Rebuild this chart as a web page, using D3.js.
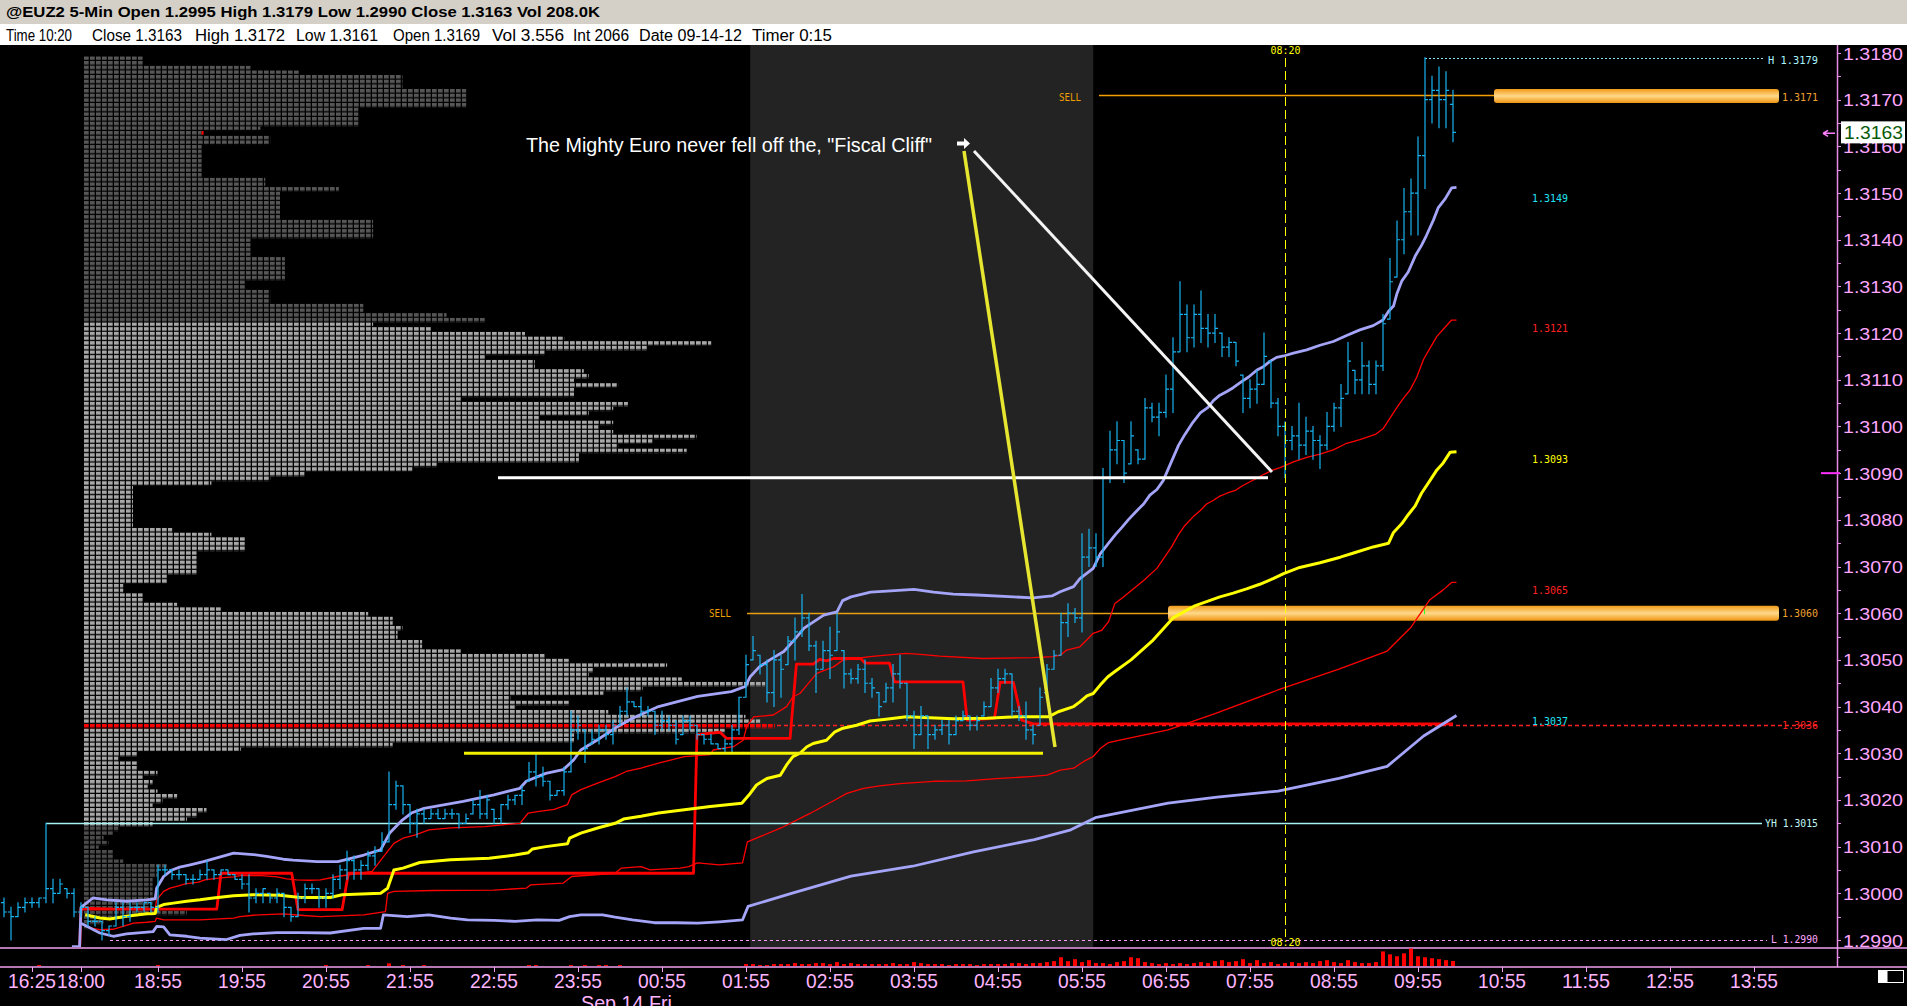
<!DOCTYPE html>
<html>
<head>
<meta charset="utf-8">
<script src="https://cdn.jsdelivr.net/npm/d3@7"></script>
<style>
  body { margin: 0; background: #000; overflow: hidden; }
  svg { display: block; }
</style>
</head>
<body>
<div id="vis"></div>
<script>
// ---- data (prices in pips above 1.3000) ----
const symbolTitle = "@EUZ2 5-Min Open 1.2995 High 1.3179 Low 1.2990 Close 1.3163 Vol 208.0K";
const infoFields = ["Time 10:20", "Close 1.3163", "High 1.3172", "Low 1.3161", "Open 1.3169",
  "Vol 3.556", "Int 2066", "Date 09-14-12", "Timer 0:15"];

const timeLabels = ["16:25","18:00","18:55","19:55","20:55","21:55","22:55","23:55","00:55","01:55","02:55",
  "03:55","04:55","05:55","06:55","07:55","08:55","09:55","10:55","11:55","12:55","13:55"];
const timeLabelBars = [-7,0,11,23,35,47,59,71,83,95,107,119,131,143,155,167,179,191,203,215,227,239];
const dateLabel = "Sep 14 Fri";
const priceTicks = d3.range(0, 20).map(i => +(1.2990 + i * 0.001).toFixed(4));

const firstBar = -11;   // bars before 18:00 belong to the previous session
const barHigh = [-1,-3,-2,-1,-1,-1,15,3,3,1,1,
  -2,-3,-5,-6,-7,-2,-2,-2,-2,-2, -2,6,6,5,5,4,4,5,7,5, 5,5,4,4,4,1,1,0,1,0, -3,0,2,2,1,1,4,6,9,8,
  7,9,10,13,26,24,23,19,18,18, 18,18,18,18,17,17,20,22,21,18, 19,21,21,23,28,30,27,24,22,27,
  39,38,35,35,36,36,37,40,44,41, 42,40,39,39,38,37,38,38,36,34, 34,32,33,36,42,51,55,51,50,52,
  51,55,59,64,60,54,54,57,60,52, 48,49,50,46,43,45,49,51,45,39, 40,38,36,37,37,38,39,38,38,41,
  46,48,48,47,40,41,36,44,49,52, 60,62,61,77,78,77,91,99,101,97, 101,95,106,105,105,111,119,131,126,126,
  129,124,124,120,119,118,111,110,112,120, 114,106,101,100,105,102,100,98,103,105,
  109,118,112,118,114,114,124,136,144,151, 153,162,179,175,177,176,172];
const barLow = [-5,-10,-5,-4,-3,-3,-2,-2,0,-1,-5,
  -5,-7,-7,-10,-9,-7,-7,-6,-4,-4, -4,-4,4,3,3,2,2,3,3,3, 4,4,3,1,-4,-2,-2,-2,-2,-5, -6,-5,-2,0,-3,-3,-1,1,3,3,
  3,5,6,9,11,18,17,13,12,15, 16,16,16,16,14,15,17,16,16,15, 15,18,19,19,24,23,23,20,21,21,
  26,33,28,32,32,33,32,36,38,40, 38,38,34,35,35,32,34,35,33,32, 32,31,30,30,34,42,50,47,41,40,
  42,49,50,55,52,43,48,46,52,44, 45,45,43,42,38,41,41,44,37,31, 34,31,33,34,32,34,37,35,35,38,
  40,43,45,38,37,33,32,36,43,48, 51,55,58,56,70,70,70,88,92,88, 92,92,93,101,98,102,103,116,116,117,
  118,117,118,115,115,113,103,104,105,109, 104,98,89,95,93,94,93,91,95,99,
  100,107,107,107,107,107,112,123,132,137, 141,141,151,165,164,164,161];
const barOpen = [-2,-4,-5,-3,-2,-2,-1,1,0,1,0,
  -4,-3,-6,-6,-8,-7,-3,-5,-3,-3, -2,-3,5,5,4,4,3,3,4,5, 4,5,4,3,2,-1,0,0,-1,0, -3,-5,-1,1,1,-1,0,3,5,7,
  5,6,8,9,11,19,23,19,15,17, 16,17,16,17,17,15,17,19,17,18, 16,19,20,21,24,26,25,24,21,22,
  26,35,35,32,33,35,34,36,39,41, 40,39,39,36,37,36,34,37,36,34, 33,32,31,32,35,42,50,51,49,43,
  50,49,54,56,59,53,48,52,52,52, 47,46,48,45,43,41,44,47,45,38, 34,38,34,35,36,34,37,38,36,38,
  40,44,46,47,39,38,35,36,43,48, 51,58,60,59,72,74,72,89,95,97, 92,95,93,104,102,103,108,116,124,119,
  124,121,120,120,117,118,111,106,108,109, 114,105,100,97,98,96,99,97,96,100,
  104,107,112,110,113,109,113,123,132,140, 146,150,158,170,172,170,169];
const barClose = [-4,-5,-3,-2,-2,-1,1,0,2,0,-4,
  -3,-6,-6,-8,-7,-3,-5,-3,-3,-2, -3,5,5,4,4,3,3,4,5,4, 5,4,3,2,-1,0,1,-1,0,-3, -5,-1,1,1,-1,0,3,5,7,5,
  6,8,9,11,19,23,19,15,17,16, 17,16,17,17,15,16,19,17,20,16, 19,20,21,22,26,25,24,21,22,26,
  35,36,31,33,35,34,36,39,41,40, 39,39,36,37,36,33,37,36,34,33, 32,31,32,35,42,49,52,49,43,50,
  48,54,56,59,53,48,52,51,56,47, 46,48,45,44,40,44,47,45,38,34, 38,34,35,36,34,37,38,36,37,40,
  44,46,47,39,38,35,34,42,48,51, 58,60,59,72,74,72,89,95,97,90, 98,93,104,102,103,108,116,124,119,124,
  121,120,121,117,118,114,106,108,109,115, 105,100,97,98,96,99,97,96,100,104,
  106,114,110,113,109,113,122,131,140,146, 150,158,170,172,170,172,163];
// volume per bar, thousands of contracts
const barVolume = [0,0,0,0,0,0.7,0,0,0,0,0,
  0,0,0,0,0,0,0,0,0,0, 0,0.7,0,0,0,0,0,0,0,0, 0,0,0,0,0,0,0,0,0,0, 0,0,0,0,0,0.7,0,0,0,0,
  0,0.7,0,0,1.9,0,0.7,0,0,0.7, 0,0,0,0,0,0,0,0,0,0, 0,0,0,0,0.7,0.7,0,0,0,0,
  0.7,0,0.7,0,0.7,0.7,0,0.7,0,0, 0,0,0,0,0,0,0,0,0,0, 0,0,0,0,0,
  1.4,1.4,0.7,0.7,1.4,1.4,1.4,2.1,1.4,1.4,2.1,2.1,1.4,2.8,1.4,2.1,1.4,1.4,1.4,1.4,1.4,2.1,1.4,
  1.4,2.8,2.1,1.4,1.4,1.4,0.7,1.4,1.4,1.4,0.7,1.4,1.4,1.4,1.4,2.1,2.1,1.4,2.1,2.1,2.8,3.5,
  6.3,3.5,4.9,2.8,4.2,2.1,2.1,1.4,2.8,3.5,6.3,5.6,2.8,2.1,1.4,2.1,1.4,2.1,1.4,2.1,2.8,2.1,3.5,4.2,
  2.8,3.5,4.9,2.1,4.2,2.1,2.8,1.4,2.1,2.8,2.1,2.8,2.1,3.5,4.2,2.8,2.1,4.2,2.8,2.1,2.1,2.8,
  10.5,8.4,7,9.1,12.6,7,6.3,5.6,4.9,4.2,3.6];

// volume profile: volume units per 1-pip row, from 1.3179 down to 1.2990
const profileTop = 1.3179;
const profileRows = [12,12,34,44,65,65,65,78,78,78, 78,56,56,56,56,36,24,38,38,24,
  24,24,24,24,24,24,37,37,52,40, 40,40,40,40,40,59,59,59,59,34, 34,34,34,41,41,41,41,41,33,33,
  38,38,38,57,57,74,82,59,71,90, 98,128,115,94,82,92,92,102,103,100, 109,100,100,77,111,108,103,93,108,105,
  108,125,116,109,123,101,101,72,67,45, 38,26,10,10,10,10,10,10,10,10, 10,18,26,33,33,33,23,23,23,23,
  23,17,17,8,8,12,12,19,28,58, 63,63,65,64,64,69,69,77,94,99, 119,104,103,122,139,114,106,87,99,88,
  107,135,138,141,131,100,100,63,32,11, 7,11,11,15,12,14,13,15,19,16, 14,25,23,21,14,7,6,4,5,3,
  6,6,8,17,15,15,14,14,14,14, 15,14,14,21,8,4,1,0,0,0];
const valueAreaHigh = 1.3122, valueAreaLow = 1.3015, profilePoc = 1.3036;

// session VWAP and bands: [bar, pips]
const vwapLine = [[0.6,-4.6],[2.7,-5.3],[4.1,-5.5],[6.5,-4.9],[9.4,-4.4],[10.6,-4.3],[10.8,-3],[11.8,-2.4],[13.2,-2.1],
  [15.1,-1.7],[17,-1.4],[18.9,-1],[21.8,-0.5],[24.6,-0.3],[28.4,-0.4],[31.3,-0.9],[35.6,-0.9],[37.3,-0.3],[42.8,0],
  [43.8,1.1],[44.7,5],[46,5.4],[48.4,6.6],[52.8,7.2],[58.3,7.5],[62,8.2],[63.9,8.7],[64.5,9.5],[66.4,10],[69.5,10.6],
  [69.8,11.8],[71.4,12.9],[73.8,14],[76.3,15],[77.5,15.9],[80,16.5],[82.5,17.2],[86.2,17.9],[89.9,18.6],[94.4,19.3],
  [95.6,21.4],[96.5,23.2],[98,24.6],[99.9,25.3],[100.8,27.5],[101.7,29.3],[102.7,30],[103.7,31.4],[104.6,32.1],
  [106.5,32.8],[107.7,34.6],[108.7,35.3],[110.8,36],[112.7,36.9],[115,37.3],[117.9,37.8],[124.6,37.4],[129.4,37.5],
  [133.6,37.8],[138.2,37.8],[139.6,38.9],[141.8,40],[142.7,41],[143.7,42.3],[144.6,42.8],[145.6,44.6],[146.7,46.4],
  [147.7,47.5],[150,50],[153,54],[156,59],[159,61.5],[162.7,63.5],[164.6,64.3],[166.5,65.2],[168.4,66.2],[170.3,67.4],
  [171.8,68.5],[174.1,69.8],[177,70.8],[179.9,72],[181.8,72.9],[184.6,74.2],[186.8,75],[187.5,77.3],[188.7,79.2],
  [189.6,81.1],[190.6,83],[191.5,85.7],[192.7,88.4],[193.7,90.7],[194.6,92.2],[195.6,94.5],[196.5,94.6]];
const upperBand2 = [[-1.3,-11.4],[-0.2,-11.4],[0,-3],[1.7,-1],[3.7,-1.4],[6.5,-1.7],[9.4,-1.4],[10.6,-1.2],[10.8,1.1],
  [11.8,3.6],[13,5],[14.1,5.6],[15.6,6.1],[17.5,6.8],[19.4,7.6],[20.8,8.2],[21.8,8.6],[24.6,8.3],[26.5,7.9],[28.9,7.3],
  [30.3,7.1],[33.7,6.8],[36.7,6.8],[40.4,8.2],[42.8,9.3],[44.1,12.9],[45.9,15.7],[47.2,17.2],[49,18.2],[54.6,19.7],
  [59,21.1],[62.7,22.5],[63.6,24],[66.4,25.7],[68.9,26.5],[70.4,28.6],[71.4,30.7],[73.8,32.9],[76.3,35.4],[78.8,37.5],
  [82.5,40],[88.1,42.2],[92.9,43.2],[94.9,44.3],[95.6,46.4],[96.9,48.5],[98.4,50],[100.4,51.8],[101.9,54.3],
  [103.3,56.8],[104.7,58.2],[106.1,59.6],[108,60.3],[108.8,62.7],[110,63.5],[112.8,64.5],[115.7,64.8],[119,65.1],
  [121.8,64.5],[124.6,64.1],[128,63.9],[133.2,63.5],[136,63.3],[138.7,63.7],[139.9,64.6],[141.8,65.7],[142.7,67.4],
  [144.6,69.6],[145.6,72.7],[146.8,75],[147.8,76.9],[148.7,78.4],[149.6,80],[150.8,81.9],[151.8,83.4],[152.7,85.3],
  [153.7,86.5],[154.6,88.4],[155.7,92.2],[156.8,96],[157.7,98.3],[158.7,100.6],[159.9,102.9],[161,104.1],
  [161.8,105.6],[162.7,106.7],[163.7,107.5],[164.6,108.3],[165.8,109.6],[166.8,110.6],[168,112.1],[168.9,112.8],
  [169.9,114],[170.8,114.8],[171.8,115.1],[173.2,115.7],[175.1,116.4],[177,117.4],[178.9,118.2],[180.8,119.5],
  [182.7,120.7],[184.6,121.6],[186,122.8],[186.8,124.7],[187.5,125.8],[188,128.5],[188.7,131.2],[189.6,133.1],
  [190.6,136.5],[191.5,138.8],[192.2,140.9],[193.2,144.2],[193.9,146.9],[194.9,148.8],[195.8,151.1],[196.5,151.2]];
const lowerBand2 = [[0,-6.4],[2.7,-8.5],[4.6,-9.2],[6.5,-8.7],[10.3,-8.2],[10.8,-7.1],[11.8,-7.2],[12.7,-8.9],[15.1,-9.2],
  [17,-9.6],[20.8,-9.9],[22.7,-9],[24.6,-8.7],[28,-8.4],[31.3,-8.4],[35.6,-8.5],[40.4,-7.5],[42.8,-7.5],[43.2,-4.6],
  [46.6,-5],[49.7,-4.6],[52.8,-5.3],[55.2,-5.7],[59,-5.8],[62,-6],[65.2,-5.7],[68.3,-5.8],[69.8,-5],[71.4,-4.6],
  [74.5,-4.6],[76.3,-5.1],[78.8,-5.7],[81.9,-6.3],[85,-6.3],[88.1,-6.4],[91.2,-6.1],[94.5,-5.7],[95.3,-2.8],[101.5,0],
  [110,3.7],[118.8,5.8],[127.5,8.9],[136.2,11.5],[141.4,13.6],[144.9,16.2],[155.3,19.3],[162.3,20.6],[171,21.9],
  [179.7,24.6],[186.6,27.2],[191.8,33.7],[196.5,38.1]];
const upperBand1 = [[0.6,-3],[4.6,-3.3],[9.4,-3.5],[10.6,-3.3],[10.8,-1.4],[11.8,0.4],[12.7,1.1],[13.7,1.5],[14.9,2],
  [16.8,2.4],[17.7,2.9],[19.9,3.3],[21.8,3.5],[22.7,3.8],[25.8,3.8],[28,3.5],[29.4,3.1],[30.8,2.9],[32.7,2.8],[34.2,2.9],
  [36.6,3.6],[41.6,4.7],[43.8,9],[44.7,10.7],[46,11.8],[47.8,12.5],[49.7,13.6],[52.8,14],[57.7,14.3],[62.7,15],
  [63.9,17.2],[65.2,17.5],[67.6,18],[69.5,19],[70.1,21.1],[71.4,22.2],[73.8,23.6],[76.3,25],[77.9,26.1],[80,26.8],
  [82.5,27.9],[86.2,29.3],[89.9,29.7],[90.3,30.7],[93.2,31.4],[94.6,32.8],[95.1,35.7],[96.1,37.8],[98.9,38.2],
  [100.8,40],[101.7,42.1],[102.7,42.8],[103.7,44.6],[105.1,47.1],[107.5,48.5],[108.9,50],[110.8,50.3],[112.7,50.7],
  [115,51],[117.9,51.4],[119.9,51.2],[122.7,50.8],[128.9,50.3],[136,50.5],[138.9,50.7],[139.9,51],[140.8,52.1],
  [142.7,52.8],[143.7,54.3],[144.6,55.7],[145.8,56.3],[146.8,58.2],[147.7,62.1],[148.7,63.2],[151.8,67],[153.7,69.6],
  [155.8,74.2],[156.8,76.9],[157.7,78.8],[158.9,80.7],[159.9,82],[160.8,83.4],[161.8,84.2],[162.7,85.1],[163.7,85.7],
  [164.9,86.3],[165.8,87.2],[166.8,88],[168,88.9],[168.9,89.7],[170.3,90.7],[171.3,91.2],[173.2,92.4],[175.1,93.4],
  [177,94.1],[178.9,95],[180.8,96.4],[182.7,97.2],[184.9,98.3],[186,99.5],[187,101.8],[188,104.1],[188.9,106],
  [189.9,107.9],[190.8,110.5],[191.8,114.4],[192.8,117],[193.7,119.3],[194.9,121.3],[195.8,122.8],[196.5,122.8]];
const lowerBand1 = [[1.3,-7.4],[2.7,-7.8],[4.6,-7.7],[6,-7.1],[7.5,-6.4],[9.4,-6.2],[10.6,-6],[10.8,-5.3],[11.8,-5.7],
  [17,-5.7],[21.8,-5.3],[22.7,-5],[24.6,-4.7],[28.9,-4.4],[31.3,-4.7],[34.2,-5],[40.4,-4.6],[43.5,-3.9],[43.8,0],
  [44.7,0.4],[50.3,0.6],[59,0.7],[63.6,1.1],[64.2,1.8],[68.9,2.2],[70.1,3.6],[76.3,4.3],[77.2,5.4],[80,5.7],[81.3,5],
  [85.6,5.4],[86.8,5.7],[88.1,6.5],[91.2,6.1],[94.5,6.5],[95.2,11],[100,14],[104,17],[107.7,20],[109.4,21.4],
  [111.8,22.5],[114.1,23],[117,23.5],[121.8,24],[126.5,24.1],[131.3,24.6],[135.6,25],[138,25.3],[139.9,26.4],
  [141.8,26.8],[143.2,28.2],[144.6,29.3],[145.6,31],[146.8,32.3],[148.4,32.8],[155.3,35],[162,38.5],[170.9,43.5],
  [179.7,48],[186.6,51.9],[190,57],[192.7,62.9],[194.6,65],[195.8,66.6],[196.5,66.6]];
// stepped range pivot line
const pivotLine = [[-0.2,-12.5],[0,-3.4],[19.4,-3.4],[20,4.3],[30.1,4.3],[31,-3.5],[37.3,-3.5],[38.2,4.3],[87.5,4.3],
  [88,34],[91.3,34.5],[92.2,33.2],[101.3,33.2],[102.2,49.1],[104.6,49.1],[105.5,50.1],[106.5,49.8],[107.5,50.3],
  [111.4,50.3],[112,49.3],[115.5,49.3],[116.2,45.3],[126,45.3],[126.6,37.1],[130.5,37.5],[131.3,45.2],[133.2,45.2],
  [134.4,37.1],[136,36.3],[196,36.3]];
const bandLabels = ["1.3149","1.3121","1.3093","1.3065","1.3037"];

const dayHigh = 1.3179, dayLow = 1.2990, yesterdayHigh = 1.3015;
const sellLevels = [1.3171, 1.3060];
const pocLevel = 1.3036;
const lastPrice = 1.3163;
const markLevel = 1.3090;
const euroNote = "The Mighty Euro never fell off the, \"Fiscal Cliff\"";
const whiteLineLevel = 1.3089, yellowLineLevel = 1.3030;
const timeMarkerBar = 172, timeMarkerLabel = "08:20";
const shadedBars = [95.6, 144.6];

// ---- layout ----
const W = 1907, H = 1006;
const plotTop = 45, plotBottom = 947, axisX = 1837;
const narrow = "'Liberation Sans Narrow','Arial Narrow','Liberation Sans',Arial,sans-serif";
const mono = "'DejaVu Sans Mono','Liberation Mono',monospace";
const pip = 0.0001;

const svg = d3.select("#vis").append("svg").attr("width", W).attr("height", H);
const x = d3.scaleLinear().domain([0, 196]).range([81, 1453]);
const y = d3.scaleLinear().domain([1.2990, 1.3180]).range([940, 53]);
const py = v => y(1.3 + v * pip);
const rowH = y(1.3) - y(1.3 + pip);
const profW = d3.scaleLinear().domain([0, 1]).range([84, 88.9]);
const cellPitch = 6;
const volY = d3.scaleLinear().domain([0, 12.6]).range([966, 948.5]);

const defs = svg.append("defs");
defs.append("clipPath").attr("id", "plotClip").append("rect")
  .attr("x", 0).attr("y", plotTop).attr("width", axisX).attr("height", plotBottom - plotTop);

const cellPattern = (id, color) => {
  const p = defs.append("pattern").attr("id", id).attr("patternUnits", "userSpaceOnUse")
    .attr("x", profW(0)).attr("y", y(profileTop) - rowH / 2 + 1)
    .attr("width", cellPitch).attr("height", rowH);
  p.append("rect").attr("width", cellPitch - 1.3).attr("height", rowH - 1.2).attr("fill", color);
};
cellPattern("cellDark", "#575757");
cellPattern("cellLight", "#a8a8a8");
cellPattern("cellLow", "#4c4c4c");
cellPattern("cellPoc", "#ff0000");

const grad = defs.append("linearGradient").attr("id", "sellGrad").attr("x1", 0).attr("y1", 0).attr("x2", 0).attr("y2", 1);
grad.append("stop").attr("offset", "0%").attr("stop-color", "#f09a18");
grad.append("stop").attr("offset", "50%").attr("stop-color", "#ffd98a");
grad.append("stop").attr("offset", "100%").attr("stop-color", "#ee9410");

// backgrounds
svg.append("rect").attr("width", W).attr("height", H).attr("fill", "#000");
svg.append("rect").attr("width", W).attr("height", 24).attr("fill", "#d4d0c8");
svg.append("rect").attr("y", 24).attr("width", W).attr("height", 21).attr("fill", "#fff");

svg.append("text").attr("x", 6).attr("y", 17).text(symbolTitle)
  .attr("font-family", "'Liberation Sans',Arial,sans-serif").attr("font-weight", "bold").attr("font-size", 15)
  .attr("textLength", 594).attr("lengthAdjust", "spacingAndGlyphs").attr("fill", "#000");

const infoX = [[6, 66], [92, 90], [195, 90], [296, 82], [393, 87], [492, 72], [573, 56], [639, 103], [752, 80]];
svg.selectAll("text.info").data(infoFields).join("text").attr("class", "info")
  .attr("x", (d, i) => infoX[i][0]).attr("y", 41).text(d => d)
  .attr("textLength", (d, i) => infoX[i][1]).attr("lengthAdjust", "spacingAndGlyphs")
  .attr("font-family", narrow).attr("font-size", 16).attr("fill", "#000");

const plot = svg.append("g").attr("clip-path", "url(#plotClip)");

// shaded session block
plot.append("rect").attr("x", x(shadedBars[0])).attr("y", plotTop)
  .attr("width", x(shadedBars[1]) - x(shadedBars[0])).attr("height", plotBottom - plotTop).attr("fill", "#232323");

// volume profile
const profData = profileRows.map((n, i) => ({ n, price: +(profileTop - i * pip).toFixed(4) }));
plot.selectAll("rect.prof").data(profData.filter(d => d.n > 0)).join("rect").attr("class", "prof")
  .attr("x", profW(0)).attr("y", d => y(d.price) - rowH / 2 + 1)
  .attr("width", d => profW(d.n) - profW(0)).attr("height", rowH)
  .attr("fill", d => {
    if (Math.abs(d.price - profilePoc) < pip / 2) return "url(#cellPoc)";
    if (d.price > valueAreaHigh) return "url(#cellDark)";
    if (d.price < valueAreaLow) return "url(#cellLow)";
    return "url(#cellLight)";
  });
plot.append("rect").attr("x", profW(24)).attr("y", y(1.3163) - rowH / 2 + 1).attr("width", 2).attr("height", rowH - 1).attr("fill", "#f00");

// horizontal levels
const hline = (price, x1, x2, color, width, dash) => plot.append("line")
  .attr("x1", x1).attr("x2", x2).attr("y1", Math.round(y(price)) + 0.5).attr("y2", Math.round(y(price)) + 0.5)
  .attr("stroke", color).attr("stroke-width", width).attr("stroke-dasharray", dash || null);

hline(dayHigh, x(192), 1765, "#8fe3f5", 1, "2,2");
hline(yesterdayHigh, x(-5), 1762, "#a6f2f2", 1.3);
hline(dayLow, 110, 1767, "#ff9cff", 1, "3,3");
hline(pocLevel, 777, 1818, "#ff2020", 1.3, "4,3");
hline(sellLevels[0], 1099, 1779, "#f5a000", 1.6);
hline(sellLevels[1], 747, 1779, "#e8a010", 1.4);
plot.append("rect").attr("x", 1494).attr("y", y(sellLevels[0]) - 6).attr("width", 285).attr("height", 14)
  .attr("rx", 3).attr("fill", "url(#sellGrad)");
plot.append("rect").attr("x", 1168).attr("y", y(sellLevels[1]) - 7.5).attr("width", 611).attr("height", 15)
  .attr("rx", 3).attr("fill", "url(#sellGrad)");
plot.append("line").attr("x1", 1424.5).attr("x2", 1424.5).attr("y1", y(sellLevels[1]) - 7).attr("y2", y(sellLevels[1]) + 1)
  .attr("stroke", "#30ff30").attr("stroke-width", 1);

// indicator lines
const line = d3.line().x(d => x(d[0])).y(d => py(d[1]));
const drawLine = (data, color, width) => plot.append("path").datum(data).attr("d", line)
  .attr("fill", "none").attr("stroke", color).attr("stroke-width", width).attr("stroke-linejoin", "round");
drawLine(lowerBand1, "#ff0000", 1.3);
drawLine(upperBand1, "#ff0000", 1.3);
drawLine(pivotLine, "#ff0000", 2.8);
drawLine(lowerBand2, "#a4a4f8", 2.8);
drawLine(upperBand2, "#a4a4f8", 2.8);
drawLine(vwapLine, "#ffff00", 3);

// OHLC bars
const bars = barHigh.map((h, i) => ({ k: firstBar + i, h, l: barLow[i], o: barOpen[i], c: barClose[i], v: barVolume[i] }));
plot.selectAll("path.bar").data(bars).join("path").attr("class", "bar")
  .attr("d", d => `M${x(d.k)},${py(d.h) - 0.5}V${py(d.l) + 0.5}M${x(d.k) - 3},${py(d.o)}H${x(d.k)}M${x(d.k)},${py(d.c)}H${x(d.k) + 3}`)
  .attr("fill", "none").attr("stroke", "#18b2f0").attr("stroke-width", 1.2);

// 08:20 marker
const tx = Math.round(x(timeMarkerBar)) + 0.5;
plot.append("line").attr("x1", tx).attr("x2", tx).attr("y1", 58).attr("y2", 937)
  .attr("stroke", "#ffff00").attr("stroke-width", 1).attr("stroke-dasharray", "9,4");
[54, 946].forEach(by => {
  svg.append("text").attr("x", tx).attr("y", by).attr("text-anchor", "middle").text(timeMarkerLabel)
    .attr("font-family", mono).attr("font-size", 11).attr("textLength", 30).attr("lengthAdjust", "spacingAndGlyphs")
    .attr("fill", "#ffff00");
});

// hand drawn annotation
plot.append("line").attr("x1", 498).attr("x2", 1268).attr("y1", y(whiteLineLevel)).attr("y2", y(whiteLineLevel))
  .attr("stroke", "#fff").attr("stroke-width", 3);
plot.append("line").attr("x1", 974).attr("y1", 151).attr("x2", 1272).attr("y2", 472)
  .attr("stroke", "#f4f4f4").attr("stroke-width", 3);
plot.append("line").attr("x1", 464).attr("x2", 1043).attr("y1", y(yellowLineLevel)).attr("y2", y(yellowLineLevel))
  .attr("stroke", "#f2f200").attr("stroke-width", 3);
plot.append("line").attr("x1", 964).attr("y1", 151).attr("x2", 1055).attr("y2", 747)
  .attr("stroke", "#e6e630").attr("stroke-width", 3.5);
svg.append("text").attr("x", 526).attr("y", 152).text(euroNote)
  .attr("font-family", narrow).attr("font-size", 21).attr("textLength", 406).attr("lengthAdjust", "spacingAndGlyphs")
  .attr("fill", "#fff");
svg.append("path").attr("d", "M957,141.5h7v-3.5l6,5.5l-6,5.5v-3.5h-7z").attr("fill", "#fff");

// level labels
const label = (txt, lx, ly, color, len) => svg.append("text").attr("x", lx).attr("y", ly + 4).text(txt)
  .attr("font-family", mono).attr("font-size", 11).attr("fill", color)
  .attr("textLength", len).attr("lengthAdjust", "spacingAndGlyphs");
label("SELL", 1059, y(sellLevels[0]) + 2, "#f0a000", 22);
label("SELL", 709, y(sellLevels[1]), "#f0a000", 22);
label("H 1.3179", 1768, y(dayHigh) + 2, "#a8f4ff", 50);
label("1.3171", 1782, y(sellLevels[0]) + 2, "#f0a030", 36);
label("1.3060", 1782, y(sellLevels[1]), "#f0a030", 36);
label("1.3036", 1782, y(pocLevel), "#ff2020", 36);
label("YH 1.3015", 1765, y(yesterdayHigh), "#c0f4f4", 53);
label("L 1.2990", 1771, y(dayLow) - 1, "#ffa8ff", 47);
const bandColors = ["#20e4f4", "#ff2020", "#ffff00", "#ff2020", "#20e4f4"];
bandLabels.forEach((t, i) => label(t, 1532, y(+t), bandColors[i], 36));

// right price axis
svg.append("line").attr("x1", axisX + 0.5).attr("x2", axisX + 0.5).attr("y1", plotTop).attr("y2", 967)
  .attr("stroke", "#e88ce8").attr("stroke-width", 1.5);
const minorTicks = d3.range(0, 39).map(i => 1.2990 + i * 0.0005);
svg.selectAll("line.ptick").data(minorTicks).join("line").attr("class", "ptick")
  .attr("x1", axisX).attr("x2", axisX + 4).attr("y1", d => Math.round(y(d)) + 0.5).attr("y2", d => Math.round(y(d)) + 0.5)
  .attr("stroke", "#e88ce8").attr("stroke-width", 1);
svg.selectAll("text.plabel").data(priceTicks).join("text").attr("class", "plabel")
  .attr("x", 1843).attr("y", d => y(d) + 6.5).text(d => d.toFixed(4))
  .attr("font-family", "'Liberation Sans',Arial,sans-serif").attr("font-size", 17)
  .attr("textLength", 60).attr("lengthAdjust", "spacingAndGlyphs").attr("fill", "#ffa6ff");
svg.append("rect").attr("x", 1841).attr("y", y(lastPrice) - 11).attr("width", 64).attr("height", 22).attr("fill", "#fff");
svg.append("text").attr("x", 1844).attr("y", y(lastPrice) + 7).text(lastPrice.toFixed(4))
  .attr("font-family", "'Liberation Sans',Arial,sans-serif").attr("font-size", 18)
  .attr("textLength", 59).attr("lengthAdjust", "spacingAndGlyphs").attr("fill", "#0a5a0a");
svg.append("path").attr("d", `M1835,${y(lastPrice) + 1}h-12m0,0l5,-3m-5,3l5,3`).attr("stroke", "#ff80ff")
  .attr("stroke-width", 1.5).attr("fill", "none");
svg.append("line").attr("x1", 1821).attr("x2", 1840).attr("y1", y(markLevel)).attr("y2", y(markLevel))
  .attr("stroke", "#ff30ff").attr("stroke-width", 2);

// volume pane
svg.append("line").attr("x1", 0).attr("x2", W).attr("y1", 948).attr("y2", 948).attr("stroke", "#f0a0f0").attr("stroke-width", 1.5);
svg.append("line").attr("x1", 0).attr("x2", W).attr("y1", 967).attr("y2", 967).attr("stroke", "#f0a0f0").attr("stroke-width", 1.5);
svg.append("line").attr("x1", axisX).attr("x2", axisX + 3).attr("y1", 957.5).attr("y2", 957.5).attr("stroke", "#e88ce8");
svg.selectAll("rect.vol").data(bars.filter(d => d.v > 0)).join("rect").attr("class", "vol")
  .attr("x", d => x(d.k) - 2).attr("width", 4)
  .attr("y", d => volY(d.v)).attr("height", d => volY(0) - volY(d.v)).attr("fill", "#ff0000");

// time axis
svg.selectAll("line.ttick").data(timeLabelBars).join("line").attr("class", "ttick")
  .attr("x1", d => x(d) + 0.5).attr("x2", d => x(d) + 0.5).attr("y1", 967).attr("y2", 972)
  .attr("stroke", "#f0a0f0").attr("stroke-width", 1);
svg.selectAll("text.tlabel").data(timeLabels).join("text").attr("class", "tlabel")
  .attr("x", (d, i) => x(timeLabelBars[i])).attr("y", 988).attr("text-anchor", "middle").text(d => d)
  .attr("font-family", narrow).attr("font-size", 21).attr("textLength", 48).attr("lengthAdjust", "spacingAndGlyphs")
  .attr("fill", "#ffb4ff");
svg.append("text").attr("x", 581).attr("y", 1010).text(dateLabel)
  .attr("font-family", narrow).attr("font-size", 21).attr("textLength", 91).attr("lengthAdjust", "spacingAndGlyphs")
  .attr("fill", "#ffb4ff");
svg.append("rect").attr("x", 1878.5).attr("y", 970.5).attr("width", 25).attr("height", 12).attr("fill", "none").attr("stroke", "#fff");
svg.append("rect").attr("x", 1878.5).attr("y", 970.5).attr("width", 9).attr("height", 12).attr("fill", "#fff");
</script>
</body>
</html>
